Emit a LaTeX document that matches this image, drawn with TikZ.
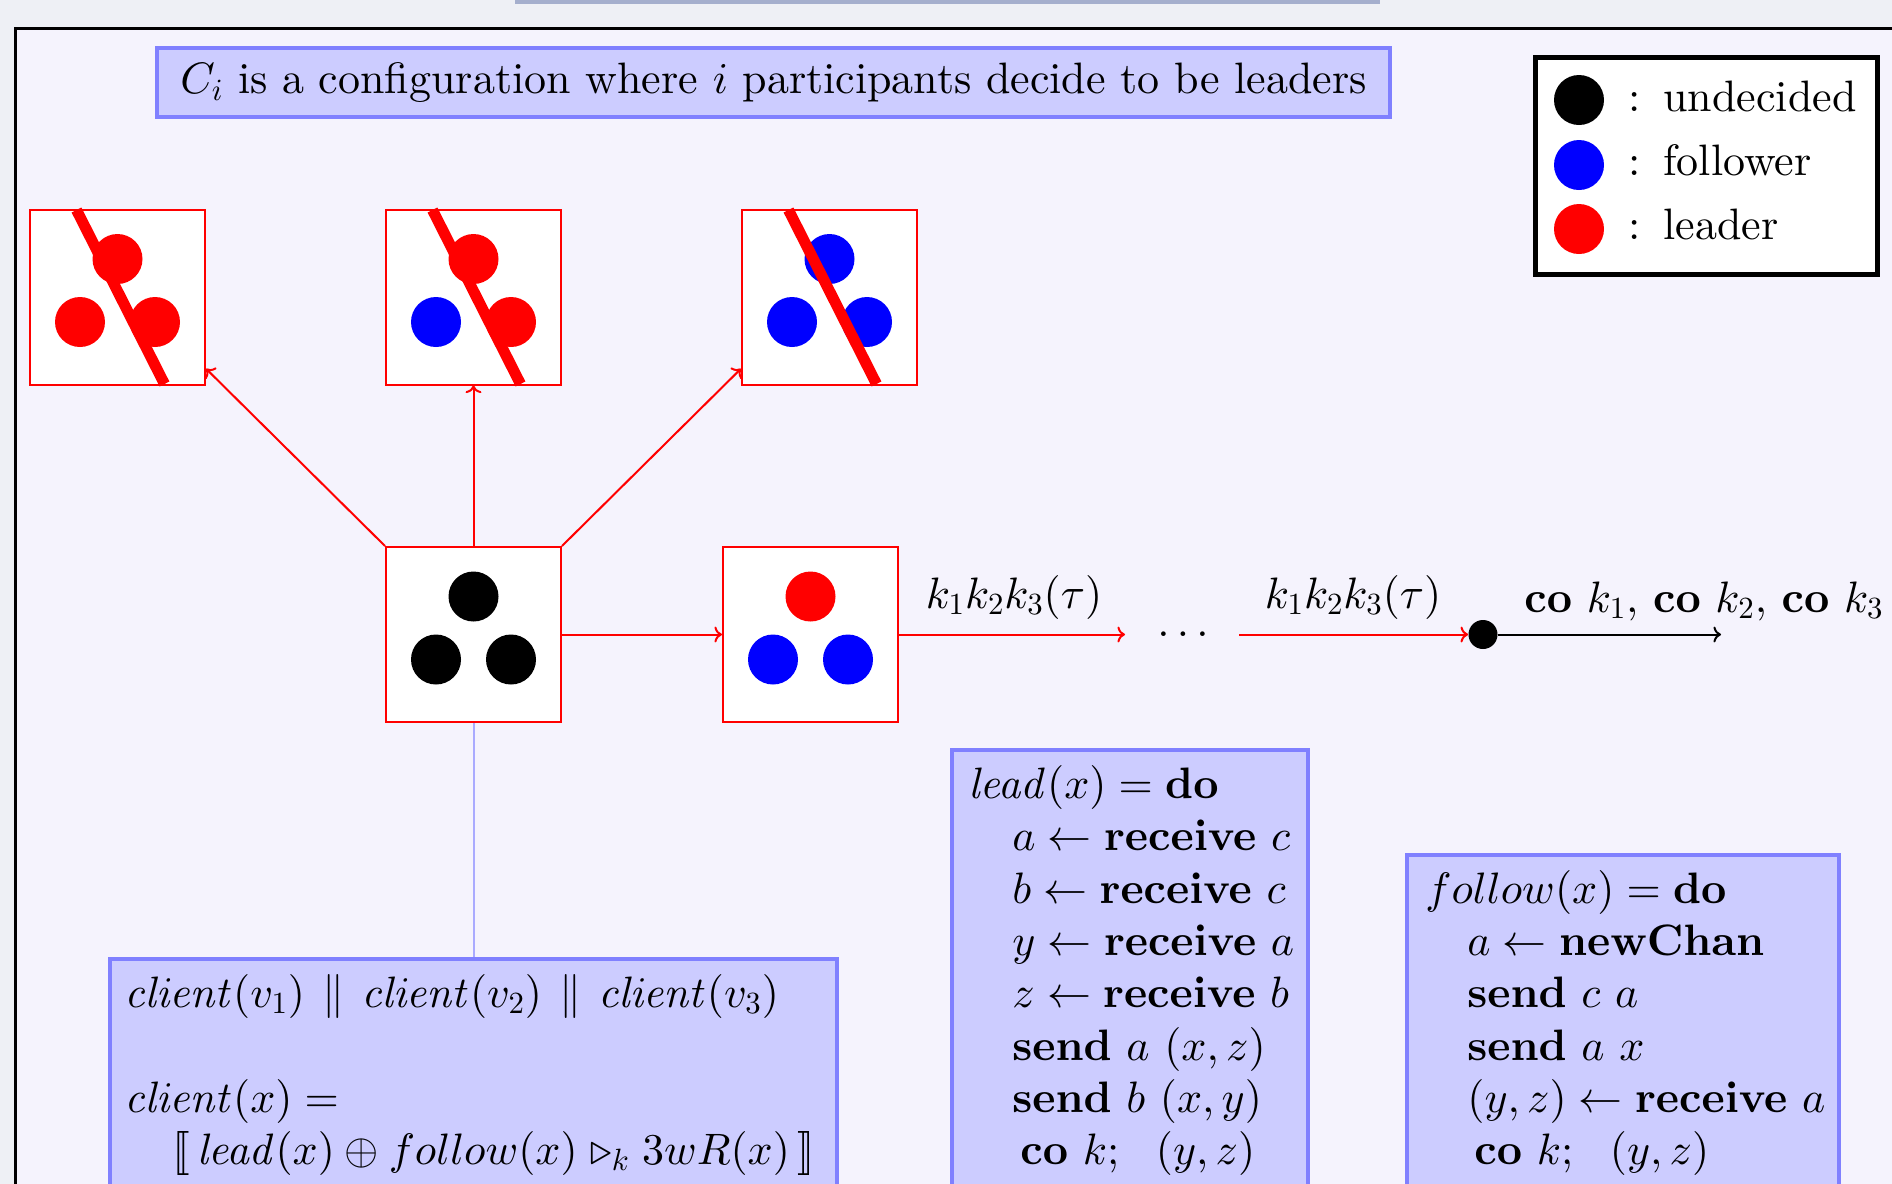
\documentclass[tikz,border=0pt]{standalone}
\usepackage{amsmath}
\usetikzlibrary{calc,arrows.meta}
% use the 10pt design sizes, scaled, for all fonts (as in a scaled-up slide)
\DeclareFontShape{TU}{lmr}{m}{n}{<-> "[lmroman10-regular]:+tlig;"}{}
\DeclareFontShape{TU}{lmr}{m}{it}{<-> "[lmroman10-italic]:+tlig;"}{}
\DeclareFontShape{TU}{lmr}{b}{n}{<-> "[lmroman10-bold]:+tlig;"}{}
\DeclareFontShape{TU}{lmr}{bx}{n}{<-> "[lmroman10-bold]:+tlig;"}{}
\DeclareFontShape{OT1}{cmr}{m}{n}{<-> cmr10}{}
\DeclareFontShape{OT1}{cmr}{m}{it}{<-> cmti10}{}
\DeclareFontShape{OT1}{cmr}{bx}{n}{<-> cmbx10}{}
\DeclareFontShape{OML}{cmm}{m}{it}{<-> cmmi10}{}
\DeclareFontShape{OML}{cmm}{b}{it}{<-> cmmib10}{}
\DeclareFontShape{OMS}{cmsy}{m}{n}{<-> cmsy10}{}
\DeclareFontShape{OMX}{cmex}{m}{n}{<-> cmex10}{}
\definecolor{outerbg}{RGB}{238,240,245}
\definecolor{slidebg}{RGB}{245,243,253}
\definecolor{boxfill}{RGB}{204,204,255}
\definecolor{boxborder}{RGB}{128,128,255}
\definecolor{linkblue}{RGB}{170,170,255}
\definecolor{topbar}{RGB}{165,175,205}
\newcommand\confdots[4]{%
  \fill[#2] ($(#1)+(0,-38)$) circle[radius=12.5pt];
  \fill[#3] ($(#1)+(-37.5,25)$) circle[radius=12.5pt];
  \fill[#4] ($(#1)+(37.5,25)$) circle[radius=12.5pt];}
\newcommand\confslash[1]{%
  \draw[red, line width=5.5pt] ($(#1)+(-41,-87)$) -- ($(#1)+(47,87)$);}
\newcommand\parbar{\mathrel{\mkern2mu\parallel\mkern2mu}}
\begin{document}
\begin{tikzpicture}[x=0.5pt,y=-0.5pt,
  bigfont/.style={font=\fontsize{22}{26.2}\selectfont},
  cfg/.style={draw=red, line width=1pt, fill=white, minimum width=87.5pt, minimum height=87.5pt, inner sep=0pt},
  rconn/.style={draw=red, line width=1pt, ->},
  bconn/.style={draw=black, line width=1pt, ->},
  codebox/.style={draw=boxborder, fill=boxfill, line width=2pt, inner sep=0pt},
  code/.style={bigfont, anchor=base west, inner sep=0pt},
  lbl/.style={bigfont, inner sep=0pt}]
\useasboundingbox (0,0) rectangle (1892,1184);
\clip (0,0) rectangle (1892,1184);
% backgrounds
\fill[outerbg] (0,0) rectangle (1892,1184);
\fill[topbar] (515,0) rectangle (1380,3.5);
\fill[slidebg] (15,28) rectangle (1900,1200);
\draw[black, line width=1.5pt] (15,1200) -- (15,28) -- (1900,28);
% title
\node[codebox, minimum width=616.5pt, minimum height=34.5pt, bigfont] (title) at (773.5,82.5)
  {$C_i$ is a configuration where $i$ participants decide to be leaders\hspace{16pt}};
% legend
\node[draw=black, fill=white, line width=2.5pt, minimum width=171pt, minimum height=108.5pt, inner sep=0pt] (legend) at (1706.5,166) {};
\fill[black] (1579,100) circle[radius=12.5pt];
\fill[blue] (1579,165) circle[radius=12.5pt];
\fill[red] (1579,229) circle[radius=12.5pt];
\node[code] (lg1) at (1628,111) {:\hspace{0.52em}undecided};
\node[code] (lg2) at (1628,175) {:\hspace{0.52em}follower};
\node[code] (lg3) at (1628,239) {:\hspace{0.52em}leader};
% configurations
\node[cfg] (tl) at (117.5,297) {};
\node[cfg] (tm) at (473.5,297) {};
\node[cfg] (tr) at (829.5,297) {};
\node[cfg] (c) at (473.5,634.5) {};
\node[cfg] (r) at (810.5,634.5) {};
\confdots{tl}{red}{red}{red}
\confdots{tm}{red}{blue}{red}
\confdots{tr}{blue}{blue}{blue}
\confdots{c}{black}{black}{black}
\confdots{r}{red}{blue}{blue}
\confslash{tl}
\confslash{tm}
\confslash{tr}
% arrows from initial configuration
\draw[rconn] (c.north west) -- (tl.-39);
\draw[rconn] (c.north) -- (tm.south);
\draw[rconn] (c.north east) -- (tr.-141);
\draw[rconn] (c.east) -- (r.west);
% trace
\coordinate (e1) at (1125,634.5);
\coordinate (s2) at (1239,634.5);
\coordinate (e3) at (1721,634.5);
\node[lbl, anchor=base] (ell) at (1183,636) {$\ldots$};
\node[circle, fill=black, minimum size=14.5pt, inner sep=0pt] (dot) at (1483,634.5) {};
\draw[rconn] (r.east) -- (e1);
\draw[rconn] (s2) -- (dot.west);
\draw[bconn] (dot.east) -- (e3);
\node[lbl, anchor=base] (lab1) at (1014,608) {$k_1k_2k_3(\tau)$};
\node[lbl, anchor=base] (lab2) at (1353,608) {$k_1k_2k_3(\tau)$};
\node[lbl, anchor=base west] (lab3) at (1524,612) {$\mathbf{co}\ k_1{,}\ \mathbf{co}\ k_2{,}\ \mathbf{co}\ k_3$};
% program boxes
\node[codebox, minimum width=363.5pt, minimum height=120.5pt] (client) at (473.5,1079.5) {};
\node[codebox, minimum width=178pt, minimum height=225pt] (lead) at (1130,975) {};
\node[codebox, minimum width=216pt, minimum height=172.5pt] (follow) at (1623,1027.5) {};
\draw[linkblue, line width=1pt] (c.south) -- (client.north);
% client text
\node[code] (c1) at (124,1007) {$\mathit{client}(v_1) \parbar \mathit{client}(v_2) \parbar \mathit{client}(v_3)$};
\node[code] (c2) at (124,1112) {$\mathit{client}(x) =$};
\node[code] (c3) at (172,1164) {$[\![\, \mathit{lead}(x) \oplus follow(x) \mathbin{\mkern1mu\triangleright_k\mkern1mu} 3wR(x) \,]\!]$};
% lead text
\node[code] (l1) at (968,798) {$\mathit{lead}(x) = \mathbf{do}$};
\node[code] (l2) at (1012,850) {$a \leftarrow \mathbf{receive}\ c$};
\node[code] (l3) at (1012,903) {$b \leftarrow \mathbf{receive}\ c$};
\node[code] (l4) at (1012,955) {$y \leftarrow \mathbf{receive}\ a$};
\node[code] (l5) at (1012,1007) {$z \leftarrow \mathbf{receive}\ b$};
\node[code] (l6) at (1012,1060) {$\mathbf{send}\ a\ (x,z)$};
\node[code] (l7) at (1012,1112) {$\mathbf{send}\ b\ (x,y)$};
\node[code] (l8) at (1020,1164) {$\mathbf{co}\ k;\ \ (y,z)$};
% follow text
\node[code] (f1) at (1425,903) {$follow(x) = \mathbf{do}$};
\node[code] (f2) at (1467,955) {$a \leftarrow \mathbf{newChan}$};
\node[code] (f3) at (1467,1007) {$\mathbf{send}\ c\ a$};
\node[code] (f4) at (1467,1060) {$\mathbf{send}\ a\ x$};
\node[code] (f5) at (1467,1112) {$(y,z) \leftarrow \mathbf{receive}\ a$};
\node[code] (f6) at (1474,1164) {$\mathbf{co}\ k;\ \ (y,z)$};
\end{tikzpicture}
\end{document}
